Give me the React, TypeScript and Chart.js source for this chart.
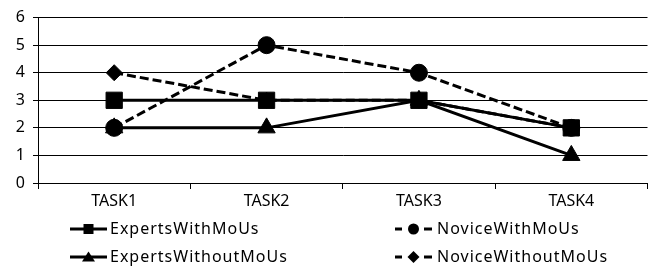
import React, { useEffect, useRef } from 'react';
import { Chart, registerables } from 'chart.js';

Chart.register(...registerables);

// ---- Data ----
const categories = ['TASK1', 'TASK2', 'TASK3', 'TASK4'];
const expertsWithMoUs = [3, 3, 3, 2];
const noviceWithMoUs = [2, 5, 4, 2];
const expertsWithoutMoUs = [2, 2, 3, 1];
const noviceWithoutMoUs = [4, 3, 3, 2];
const seriesLabels = ['ExpertsWithMoUs', 'NoviceWithMoUs', 'ExpertsWithoutMoUs', 'NoviceWithoutMoUs'];
const yMin = 0;
const yMax = 6;
const yStep = 1;

// ---- Layout / style ----
const W = 660;
const H = 269;
const FONT_FAMILY = '"Noto Sans", "Open Sans", sans-serif';
const FONT_SIZE = 16;
const DASH = [9, 4];

// legend slots
const LEGEND_SLOTS = [
  { x: 70, y: 229, tx: 110 },
  { x: 395, y: 229, tx: 437 },
  { x: 70, y: 257, tx: 110 },
  { x: 395, y: 257, tx: 437 },
];
const LEGEND_LINE_LEN = 37;

function drawMarker(ctx: CanvasRenderingContext2D, style: string, cx: number, cy: number) {
  ctx.beginPath();
  if (style === 'rect') {
    ctx.rect(cx - 5, cy - 5, 10, 10);
  } else if (style === 'circle') {
    ctx.arc(cx, cy, 5.5, 0, Math.PI * 2);
  } else if (style === 'triangle') {
    ctx.moveTo(cx, cy - 5.5);
    ctx.lineTo(cx + 6.5, cy + 4.5);
    ctx.lineTo(cx - 6.5, cy + 4.5);
    ctx.closePath();
  } else if (style === 'rectRot') {
    ctx.moveTo(cx, cy - 6);
    ctx.lineTo(cx + 6, cy);
    ctx.lineTo(cx, cy + 6);
    ctx.lineTo(cx - 6, cy);
    ctx.closePath();
  }
  ctx.fill();
}

const legendPlugin = {
  id: 'slotLegend',
  afterDraw(chart: any) {
    const ctx: any = chart.ctx;
    ctx.save();
    chart.data.datasets.forEach((ds: any, i: number) => {
      const slot = LEGEND_SLOTS[i];
      const x0 = slot.x;
      const x1 = slot.x + LEGEND_LINE_LEN;
      const y = slot.y;
      const cx = (x0 + x1) / 2;
      ctx.strokeStyle = '#000';
      ctx.fillStyle = '#000';
      ctx.lineWidth = 3;
      ctx.setLineDash([]);
      ctx.beginPath();
      if (ds.borderDash && ds.borderDash.length) {
        ctx.moveTo(x0, y);
        ctx.lineTo(x0 + 7, y);
        ctx.moveTo(x1 - 8, y);
        ctx.lineTo(x1, y);
      } else {
        ctx.moveTo(x0, y);
        ctx.lineTo(x1, y);
      }
      ctx.stroke();
      drawMarker(ctx, ds.pointStyle, cx, y);
      ctx.font = `${FONT_SIZE}px ${FONT_FAMILY}`;
      ctx.letterSpacing = '1px';
      ctx.textAlign = 'left';
      ctx.textBaseline = 'middle';
      ctx.fillText(ds.label, slot.tx, y);
      ctx.letterSpacing = '0px';
    });
    ctx.restore();
  },
};

export default function App() {
  const ref = useRef<HTMLCanvasElement | null>(null);

  useEffect(() => {
    if (!ref.current) return;
    const common = {
      borderColor: '#000',
      backgroundColor: '#000',
      pointBackgroundColor: '#000',
      pointBorderColor: '#000',
      pointBorderWidth: 1,
      borderWidth: 3,
      tension: 0,
      fill: false,
    };
    const chart = new Chart(ref.current, {
      type: 'line',
      data: {
        labels: categories,
        datasets: [
          { ...common, label: seriesLabels[0], data: expertsWithMoUs, pointStyle: 'rect', pointRadius: 11.5, borderDash: [] },
          { ...common, label: seriesLabels[1], data: noviceWithMoUs, pointStyle: 'circle', pointRadius: 8.5, borderDash: DASH },
          { ...common, label: seriesLabels[2], data: expertsWithoutMoUs, pointStyle: 'triangle', pointRadius: 10, borderDash: [] },
          { ...common, label: seriesLabels[3], data: noviceWithoutMoUs, pointStyle: 'rectRot', pointRadius: 8, borderDash: DASH },
        ],
      },
      options: {
        responsive: false,
        animation: false,
        events: [],
        layout: { padding: { top: 15, right: 8, left: 0, bottom: 0 } },
        plugins: { legend: { display: false }, tooltip: { enabled: false } },
        scales: {
          x: {
            offset: true,
            grid: { offset: true, drawOnChartArea: false, drawTicks: true, tickLength: 6, color: '#000', lineWidth: 1 },
            border: { color: '#000', width: 1 },
            ticks: { color: '#000', font: { family: FONT_FAMILY, size: FONT_SIZE }, padding: 3, maxRotation: 0, autoSkip: false },
            afterFit: (s: any) => { s.height = H - 183; },
          },
          y: {
            min: yMin,
            max: yMax,
            ticks: { stepSize: yStep, color: '#000', font: { family: FONT_FAMILY, size: FONT_SIZE }, padding: 8 },
            grid: { color: '#000', lineWidth: 1, tickLength: 5 },
            border: { color: '#000', width: 1 },
            afterFit: (s: any) => { s.width = 38; },
          },
        },
      },
      plugins: [legendPlugin],
    });
    return () => chart.destroy();
  }, []);

  return (
    <div style={{ position: 'fixed', left: 0, top: 0, width: W, height: H, background: '#fff' }}>
      <canvas ref={ref} width={W} height={H} style={{ display: 'block', width: W, height: H }} />
    </div>
  );
}
